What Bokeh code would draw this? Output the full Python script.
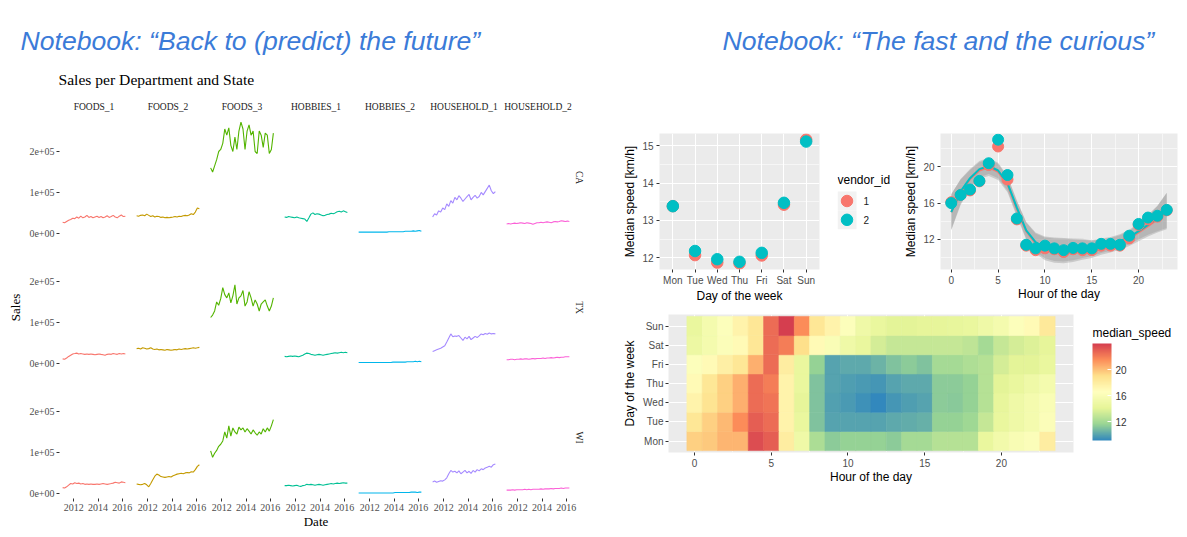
import numpy as np
import pandas as pd
from bokeh.plotting import figure
from bokeh.models import (Range1d, FactorRange, FixedTicker, Label, Title,
                          ColumnDataSource, LinearColorMapper, ColorBar)
from bokeh.core.properties import value
from bokeh.layouts import row, column
from bokeh.transform import transform
from bokeh.embed import file_html
from bokeh.resources import INLINE

SERIF = "Liberation Serif"
SANS = "Liberation Sans"

# ---------------- left chart data (sales, thousands) ----------------
dates = ["2011-02-01", "2011-04-01", "2011-06-01", "2011-08-01", "2011-10-01", "2011-12-01",
         "2012-02-01", "2012-04-01", "2012-06-01", "2012-08-01", "2012-10-01", "2012-12-01",
         "2013-02-01", "2013-04-01", "2013-06-01", "2013-08-01", "2013-10-01", "2013-12-01",
         "2014-02-01", "2014-04-01", "2014-06-01", "2014-08-01", "2014-10-01", "2014-12-01",
         "2015-02-01", "2015-04-01", "2015-06-01", "2015-08-01", "2015-10-01", "2015-12-01",
         "2016-02-01", "2016-04-01"]
departments = ["FOODS_1", "FOODS_2", "FOODS_3", "HOBBIES_1", "HOBBIES_2", "HOUSEHOLD_1", "HOUSEHOLD_2"]
states = ["CA", "TX", "WI"]
dep_colors = ["#F8766D", "#C49A00", "#53B400", "#00C094", "#00B6EB", "#A58AFF", "#FB61D7"]
year_ticks = [2012, 2014, 2016]
sales_ticks = [0, 100000, 200000]
sales_tick_labels = ["0e+00", "1e+05", "2e+05"]

CA_FOODS_1 = [27, 26, 29, 32, 34, 37, 36, 40, 37, 42, 38, 40, 44, 39, 41, 38, 40, 42, 39, 41, 38, 40, 43, 39, 41, 44, 40, 38, 42, 45, 41, 42]
CA_FOODS_2 = [43, 42, 44, 45, 43, 47, 44, 41, 43, 40, 42, 41, 39, 40, 38, 39, 38, 39, 40, 41, 40, 42, 41, 43, 44, 43, 45, 48, 46, 52, 62, 60]
CA_FOODS_3 = [160, 150, 165, 180, 200, 205, 220, 255, 240, 258, 215, 200, 235, 205, 250, 272, 255, 205, 250, 265, 240, 250, 200, 195, 250, 240, 210, 245, 240, 195, 205, 245]
CA_HOBBIES_1 = [40, 39, 41, 40, 39, 38, 40, 38, 37, 36, 35, 29, 38, 47, 50, 46, 48, 47, 45, 43, 44, 46, 47, 49, 48, 50, 53, 54, 52, 55, 53, 51]
CA_HOBBIES_2 = [3, 3, 3, 3, 3, 3, 3, 3, 3, 3, 3, 3, 3, 3, 3, 4, 4, 4, 4, 4, 4, 4, 4, 5, 5, 5, 5, 6, 5, 6, 7, 5]
CA_HOUSEHOLD_1 = [40, 48, 45, 55, 52, 62, 58, 72, 66, 80, 74, 88, 82, 92, 86, 78, 84, 90, 95, 82, 88, 93, 86, 90, 100, 94, 102, 110, 118, 104, 97, 102]
CA_HOUSEHOLD_2 = [23, 24, 23, 24, 25, 24, 25, 26, 25, 24, 26, 25, 24, 22, 24, 26, 26, 27, 26, 27, 28, 27, 26, 28, 29, 28, 29, 31, 30, 29, 30, 29]

TX_FOODS_1 = [11, 10, 13, 17, 20, 23, 24, 25, 23, 24, 23, 22, 23, 22, 23, 22, 21, 22, 23, 22, 21, 20, 22, 23, 22, 24, 23, 22, 24, 23, 24, 23]
TX_FOODS_2 = [36, 37, 35, 38, 37, 35, 36, 38, 35, 34, 35, 33, 34, 33, 32, 34, 33, 32, 33, 34, 33, 35, 34, 35, 36, 35, 36, 37, 38, 37, 38, 39]
TX_FOODS_3 = [112, 118, 128, 150, 142, 158, 185, 168, 160, 172, 148, 165, 192, 145, 160, 165, 178, 140, 150, 175, 160, 140, 155, 145, 128, 145, 150, 155, 140, 128, 140, 160]
TX_HOBBIES_1 = [17, 16, 17, 18, 17, 18, 17, 16, 18, 20, 23, 25, 24, 22, 21, 20, 21, 22, 21, 20, 21, 22, 23, 24, 25, 26, 25, 26, 27, 26, 27, 26]
TX_HOBBIES_2 = [2, 2, 2, 2, 2, 2, 2, 2, 2, 2, 2, 2, 2, 2, 2, 2, 2, 3, 3, 3, 3, 3, 3, 3, 4, 4, 4, 4, 5, 4, 5, 4]
TX_HOUSEHOLD_1 = [29, 31, 33, 35, 37, 40, 43, 52, 62, 72, 65, 67, 66, 68, 62, 56, 64, 60, 66, 58, 62, 66, 63, 67, 72, 70, 73, 71, 74, 72, 73, 72]
TX_HOUSEHOLD_2 = [9, 9, 10, 10, 9, 10, 10, 11, 10, 11, 11, 10, 11, 12, 11, 12, 12, 12, 13, 12, 13, 13, 14, 13, 14, 15, 14, 15, 15, 16, 16, 16]

WI_FOODS_1 = [14, 13, 16, 20, 24, 23, 26, 24, 25, 23, 24, 22, 23, 22, 23, 22, 22, 23, 22, 23, 24, 23, 22, 23, 24, 25, 27, 26, 25, 28, 27, 26]
WI_FOODS_2 = [23, 22, 21, 22, 24, 21, 16, 24, 33, 42, 47, 45, 41, 40, 39, 40, 41, 40, 43, 45, 47, 48, 49, 48, 50, 51, 50, 53, 52, 58, 66, 70]
WI_FOODS_3 = [104, 88, 98, 105, 115, 120, 128, 150, 135, 165, 140, 160, 150, 145, 162, 155, 160, 150, 158, 152, 145, 155, 148, 142, 150, 145, 158, 150, 160, 152, 165, 180]
WI_HOBBIES_1 = [19, 19, 20, 19, 18, 19, 20, 18, 17, 19, 20, 22, 21, 22, 21, 20, 21, 22, 21, 20, 21, 22, 23, 24, 23, 24, 25, 24, 25, 26, 25, 25]
WI_HOBBIES_2 = [1, 1, 1, 1, 1, 1, 1, 1, 1, 1, 1, 1, 1, 1, 1, 1, 1, 1, 2, 2, 2, 2, 2, 2, 2, 2, 3, 3, 3, 2, 3, 3]
WI_HOUSEHOLD_1 = [28, 30, 27, 29, 31, 30, 33, 38, 48, 56, 52, 54, 50, 55, 48, 52, 56, 50, 54, 49, 56, 52, 58, 55, 60, 58, 62, 64, 66, 64, 70, 72]
WI_HOUSEHOLD_2 = [8, 8, 8, 9, 8, 9, 9, 9, 9, 10, 9, 10, 9, 10, 10, 10, 10, 11, 10, 11, 11, 11, 12, 11, 12, 12, 12, 13, 12, 13, 13, 13]

# ---------------- right chart data ----------------
days = ["Mon", "Tue", "Wed", "Thu", "Fri", "Sat", "Sun"]
vendor_ids = ["1", "2"]
vendor_colors = ["#F8766D", "#00BFC4"]
dow_speed_v1 = [13.38, 12.07, 11.87, 11.85, 12.06, 13.42, 15.16]
dow_speed_v2 = [13.38, 12.18, 11.96, 11.89, 12.13, 13.47, 15.11]

hours = [0, 1, 2, 3, 4, 5, 6, 7, 8, 9, 10, 11, 12, 13, 14, 15, 16, 17, 18, 19, 20, 21, 22, 23]
hour_speed_v1 = [16.1, 16.9, 17.4, 18.4, 20.2, 22.25, 18.6, 14.2, 11.3, 10.8, 11.0, 10.9, 10.6, 10.9, 10.8, 10.8, 11.3, 11.3, 11.3, 12.1, 13.6, 14.2, 14.5, 15.2]
hour_speed_v2 = [16.0, 16.9, 17.5, 18.45, 20.4, 23.0, 19.1, 14.3, 11.4, 11.0, 11.3, 11.0, 10.8, 11.05, 11.0, 11.0, 11.5, 11.5, 11.4, 12.4, 13.7, 14.4, 14.6, 15.25]
smooth_fit_v1 = [15.0, 17.2, 18.65, 19.6, 19.95, 19.45, 18.05, 15.35, 12.9, 11.55, 10.95, 10.75, 10.7, 10.75, 10.85, 10.9, 11.15, 11.35, 11.65, 12.1, 12.75, 13.45, 14.2, 15.1]
smooth_fit_v2 = [15.0, 17.3, 18.75, 19.75, 20.1, 19.6, 18.2, 15.5, 13.0, 11.7, 11.1, 10.9, 10.85, 10.9, 11.0, 11.05, 11.3, 11.5, 11.8, 12.25, 12.9, 13.6, 14.3, 15.2]
smooth_se_v1 = [2.0, 1.4, 1.0, 0.9, 0.95, 0.9, 0.85, 0.85, 0.95, 1.1, 1.25, 1.35, 1.35, 1.25, 1.1, 0.95, 0.85, 0.8, 0.8, 0.85, 0.95, 1.15, 1.45, 2.0]
smooth_se_v2 = [1.95, 1.35, 1.0, 0.9, 0.9, 0.85, 0.8, 0.8, 0.9, 1.05, 1.2, 1.3, 1.3, 1.2, 1.05, 0.9, 0.8, 0.75, 0.75, 0.8, 0.9, 1.1, 1.4, 1.95]

hm_Mon = [19.5, 19.7, 20.3, 20.3, 23.5, 23.0, 18.0, 15.0, 12.2, 11.3, 11.5, 11.5, 11.5, 11.3, 12.0, 12.0, 12.5, 12.5, 12.5, 14.5, 15.3, 15.8, 16.2, 18.0]
hm_Tue = [18.5, 19.5, 20.2, 21.5, 23.0, 22.5, 17.5, 14.5, 11.0, 10.0, 10.0, 10.0, 10.0, 10.2, 10.3, 10.4, 11.5, 11.5, 11.8, 13.0, 14.5, 15.0, 15.5, 16.2]
hm_Wed = [17.5, 18.7, 19.5, 20.5, 22.5, 22.3, 17.5, 14.2, 11.0, 9.9, 9.7, 9.4, 9.1, 9.6, 9.8, 10.0, 11.3, 11.2, 11.5, 12.5, 14.3, 15.0, 15.5, 16.0]
hm_Thu = [17.0, 18.5, 19.5, 20.5, 22.5, 22.0, 17.5, 14.5, 11.0, 10.0, 9.8, 9.7, 9.6, 10.0, 10.2, 10.2, 11.3, 11.3, 11.5, 12.5, 14.0, 14.5, 15.0, 15.5]
hm_Fri = [16.3, 17.0, 17.8, 18.5, 20.5, 22.5, 18.0, 14.5, 11.5, 10.0, 10.2, 10.2, 10.5, 11.0, 11.3, 11.0, 12.0, 12.0, 12.3, 12.5, 13.5, 14.0, 14.0, 14.5]
hm_Sat = [14.8, 15.5, 16.2, 17.0, 18.5, 22.5, 22.0, 19.0, 17.0, 16.0, 15.0, 14.5, 13.5, 13.0, 13.0, 13.0, 13.0, 13.0, 12.8, 12.0, 13.0, 13.5, 13.8, 14.2]
hm_Sun = [14.5, 15.5, 16.3, 17.5, 18.5, 22.5, 24.0, 21.5, 18.5, 17.5, 16.3, 15.0, 14.5, 14.0, 14.0, 14.2, 14.2, 14.3, 14.5, 15.0, 15.5, 16.3, 17.0, 18.3]
spectral_rev = ["#3288BD", "#99D594", "#E6F598", "#FFFFBF", "#FEE08B", "#FC8D59", "#D53E4F"]
colorbar_ticks = [12, 16, 20]

# ---------------- helpers ----------------
def dec_year(s):
    d = pd.Timestamp(s)
    a = pd.Timestamp(year=d.year, month=1, day=1)
    b = pd.Timestamp(year=d.year + 1, month=1, day=1)
    return d.year + (d - a) / (b - a)


def expand(lo, hi, f=0.05):
    d = (hi - lo) * f
    return lo - d, hi + d


def style_axis(ax, font, label_color, size="10px", title_size="12px"):
    ax.axis_line_color = None
    ax.major_tick_line_color = "#333333"
    ax.major_tick_out = 3
    ax.major_tick_in = 0
    ax.minor_tick_line_color = None
    ax.major_label_text_font = font
    ax.major_label_text_font_size = size
    ax.major_label_text_color = label_color
    ax.major_label_standoff = 2
    ax.axis_label_text_font = font
    ax.axis_label_text_font_size = title_size
    ax.axis_label_text_font_style = "normal"
    ax.axis_label_text_color = "black"


def gg_panel(p):
    p.background_fill_color = "#EBEBEB"
    p.outline_line_color = None
    p.grid.grid_line_color = "white"
    p.grid.grid_line_width = 1.1
    p.grid.minor_grid_line_color = "white"
    p.grid.minor_grid_line_width = 0.55
    for ax in p.axis:
        style_axis(ax, SANS, "#4D4D4D")


def blank(p):
    p.outline_line_color = None
    p.grid.visible = False
    p.background_fill_color = "white"


sales = {
    "CA": [CA_FOODS_1, CA_FOODS_2, CA_FOODS_3, CA_HOBBIES_1, CA_HOBBIES_2, CA_HOUSEHOLD_1, CA_HOUSEHOLD_2],
    "TX": [TX_FOODS_1, TX_FOODS_2, TX_FOODS_3, TX_HOBBIES_1, TX_HOBBIES_2, TX_HOUSEHOLD_1, TX_HOUSEHOLD_2],
    "WI": [WI_FOODS_1, WI_FOODS_2, WI_FOODS_3, WI_HOBBIES_1, WI_HOBBIES_2, WI_HOUSEHOLD_1, WI_HOUSEHOLD_2],
}

x_years = [dec_year(s) for s in dates]
all_sales = [v * 1000 for st in states for arr in sales[st] for v in arr]
ylo, yhi = expand(min(all_sales), max(all_sales))
xlo, xhi = expand(min(x_years), max(x_years))
x_rng = Range1d(xlo, xhi)
y_rng = Range1d(ylo, yhi)

# ---------------- header ----------------
head = figure(width=1187, height=95, x_range=Range1d(0, 1187), y_range=Range1d(95, 0),
              x_axis_location=None, y_axis_location=None, title=None,
              toolbar_location=None, output_backend="svg",
              min_border_left=0, min_border_right=0, min_border_top=0, min_border_bottom=0)
blank(head)
BLUE = "#3B7BD8"
head.add_layout(Label(x=20, y=40, text="Notebook: \u201cBack to (predict) the future\u201d",
                      text_font=SANS, text_font_size="26.6px", text_font_style="italic",
                      text_color=BLUE, text_baseline="alphabetic"))
head.add_layout(Label(x=722, y=40, text="Notebook: \u201cThe fast and the curious\u201d",
                      text_font=SANS, text_font_size="26.6px", text_font_style="italic",
                      text_color=BLUE, text_baseline="alphabetic"))
head.add_layout(Label(x=58, y=79, text="Sales per Department and State",
                      text_font=SERIF, text_font_size="15.6px", text_color="black",
                      text_baseline="alphabetic"))

# ---------------- left facet grid ----------------
FW, FH = 69, 122
facet_rows = []
nS, nD = len(states), len(departments)
for i, st in enumerate(states):
    figs = []
    for j, dep in enumerate(departments):
        bl = 59 if j == 0 else 0
        br = 28 if j == nD - 1 else 5
        bt = 21 if i == 0 else 0
        bb = 39 if i == nS - 1 else 8
        p = figure(width=bl + FW + br, height=bt + FH + bb, x_range=x_rng, y_range=y_rng,
                   x_axis_location="below" if i == nS - 1 else None,
                   y_axis_location="left" if j == 0 else None,
                   title=None, toolbar_location=None, output_backend="svg",
                   min_border_left=bl, min_border_right=br, min_border_top=bt, min_border_bottom=bb)
        blank(p)
        p.line(x_years, [v * 1000 for v in sales[st][j]], line_color=dep_colors[j], line_width=1.1)
        if i == 0:
            p.add_layout(Title(text=dep, align="center", text_font=SERIF, text_font_size="9.5px",
                               text_font_style="normal", text_color="#1A1A1A", standoff=9), "above")
        if j == nD - 1:
            p.add_layout(Title(text=st, align="center", text_font=SERIF, text_font_size="9.5px",
                               text_font_style="normal", text_color="#1A1A1A", standoff=2), "right")
        if j == 0:
            ax = p.yaxis[0]
            style_axis(ax, SERIF, "#4D4D4D", "10px", "13px")
            ax.ticker = FixedTicker(ticks=sales_ticks)
            ax.major_label_overrides = dict(zip(sales_ticks, sales_tick_labels))
            ax.axis_label_standoff = 3
            if st == "TX":
                ax.axis_label = "Sales"
        if i == nS - 1:
            ax = p.xaxis[0]
            style_axis(ax, SERIF, "#4D4D4D", "10px", "13px")
            ax.ticker = FixedTicker(ticks=year_ticks)
            ax.axis_label_standoff = 0
            if j == 3:
                ax.axis_label = "Date"
        figs.append(p)
    facet_rows.append(row(*figs))
left_block = column(*facet_rows)

# ---------------- panel A: day of week ----------------
a_lo, a_hi = expand(min(dow_speed_v1 + dow_speed_v2), max(dow_speed_v1 + dow_speed_v2))
pA = figure(width=220, height=210,
            x_range=FactorRange(factors=days, range_padding=0.1, range_padding_units="absolute"),
            y_range=Range1d(a_lo, a_hi), title=None, toolbar_location=None, output_backend="svg",
            min_border_left=59, min_border_right=1, min_border_top=38, min_border_bottom=35)
gg_panel(pA)
pA.yaxis.ticker = FixedTicker(ticks=[12, 13, 14, 15], minor_ticks=[11.5, 12.5, 13.5, 14.5, 15.5])
pA.xaxis.axis_label = "Day of the week"
pA.yaxis.axis_label = "Median speed [km/h]"
pA.xaxis.axis_label_standoff = 0
pA.yaxis.axis_label_standoff = 2
pA.scatter(days, dow_speed_v1, size=11.5, color=vendor_colors[0])
pA.scatter(days, dow_speed_v2, size=11.5, color=vendor_colors[1])

# legend for vendor_id: key cells (1 unit = 19 px) stacked top to bottom
key_pos = [len(vendor_ids) - 1 - k for k in range(len(vendor_ids))]
KEY_PX = 19.0
FRAME_W, FRAME_H = 59.0, 137.4
key_top_off = 58.7   # px from frame top to top of first key
leg_hi = max(key_pos) + 0.5 + key_top_off / KEY_PX
leg_lo = leg_hi - FRAME_H / KEY_PX
pL = figure(width=80, height=210, x_range=Range1d(-0.5, -0.5 + FRAME_W / KEY_PX),
            y_range=Range1d(leg_lo, leg_hi),
            x_axis_location=None, y_axis_location=None, title=None,
            toolbar_location=None, output_backend="svg",
            min_border_left=17, min_border_right=4, min_border_top=38, min_border_bottom=35)
blank(pL)
pL.rect([0] * len(vendor_ids), key_pos, width=1, height=1, fill_color="#F2F2F2", line_color=None)
pL.scatter([0] * len(vendor_ids), key_pos, size=11.5, color=vendor_colors)
pL.text([0.5 + 7 / KEY_PX] * len(vendor_ids), key_pos, text=vendor_ids, text_font=value(SANS),
        text_font_size="10px", text_color="#1A1A1A", text_baseline="middle", text_align="left")
pL.add_layout(Label(x=-0.5, y=max(key_pos) + 0.5 + 0.63, text="vendor_id", text_font=SANS,
                    text_font_size="12px", text_color="black", text_baseline="middle"))

# ---------------- panel B: hour of day ----------------
lower_v1 = [f - s for f, s in zip(smooth_fit_v1, smooth_se_v1)]
upper_v1 = [f + s for f, s in zip(smooth_fit_v1, smooth_se_v1)]
lower_v2 = [f - s for f, s in zip(smooth_fit_v2, smooth_se_v2)]
upper_v2 = [f + s for f, s in zip(smooth_fit_v2, smooth_se_v2)]
b_lo, b_hi = expand(min(lower_v1 + lower_v2 + hour_speed_v1 + hour_speed_v2),
                    max(upper_v1 + upper_v2 + hour_speed_v1 + hour_speed_v2))
bx_lo, bx_hi = expand(min(hours), max(hours))
pB = figure(width=287, height=210, x_range=Range1d(bx_lo, bx_hi), y_range=Range1d(b_lo, b_hi),
            title=None, toolbar_location=None, output_backend="svg",
            min_border_left=40, min_border_right=10, min_border_top=38, min_border_bottom=35)
gg_panel(pB)
pB.xaxis.ticker = FixedTicker(ticks=[0, 5, 10, 15, 20], minor_ticks=[2.5, 7.5, 12.5, 17.5, 22.5])
pB.yaxis.ticker = FixedTicker(ticks=[12, 16, 20], minor_ticks=[10, 14, 18, 22])
pB.xaxis.axis_label = "Hour of the day"
pB.yaxis.axis_label = "Median speed [km/h]"
pB.xaxis.axis_label_standoff = 0
pB.yaxis.axis_label_standoff = 2
pB.varea(x=hours, y1=lower_v1, y2=upper_v1, fill_color="#999999", fill_alpha=0.4)
pB.varea(x=hours, y1=lower_v2, y2=upper_v2, fill_color="#999999", fill_alpha=0.4)
pB.line(hours, smooth_fit_v1, line_color=vendor_colors[0], line_width=2)
pB.line(hours, smooth_fit_v2, line_color=vendor_colors[1], line_width=2)
pB.scatter(hours, hour_speed_v1, size=11, color=vendor_colors[0])
pB.scatter(hours, hour_speed_v2, size=11, color=vendor_colors[1])

# ---------------- panel C: heatmap ----------------
hm = {"Mon": hm_Mon, "Tue": hm_Tue, "Wed": hm_Wed, "Thu": hm_Thu,
      "Fri": hm_Fri, "Sat": hm_Sat, "Sun": hm_Sun}
hx, hy, hv = [], [], []
for d in days:
    for h, v in zip(hours, hm[d]):
        hx.append(h)
        hy.append(d)
        hv.append(v)
src = ColumnDataSource(dict(hour=hx, day=hy, speed=hv))


def hex2rgb(c):
    return [int(c[k:k + 2], 16) for k in (1, 3, 5)]


anch = np.array([hex2rgb(c) for c in spectral_rev], dtype=float)
tt = np.linspace(0, 1, 256)
pos = np.linspace(0, 1, len(spectral_rev))
chan = [np.interp(tt, pos, anch[:, k]) for k in range(3)]
palette = ["#%02x%02x%02x" % (int(round(r)), int(round(g)), int(round(b))) for r, g, b in zip(*chan)]
mapper = LinearColorMapper(palette=palette, low=min(hv), high=max(hv))

cx_lo, cx_hi = expand(min(hours) - 0.5, max(hours) + 0.5)
pC = figure(width=478, height=232, x_range=Range1d(cx_lo, cx_hi),
            y_range=FactorRange(factors=days, range_padding=0.1, range_padding_units="absolute"),
            title=None, toolbar_location=None, output_backend="svg",
            min_border_left=68, min_border_right=5, min_border_top=9, min_border_bottom=85)
gg_panel(pC)
pC.xaxis.ticker = FixedTicker(ticks=[0, 5, 10, 15, 20], minor_ticks=[2.5, 7.5, 12.5, 17.5, 22.5])
pC.xaxis.axis_label = "Hour of the day"
pC.yaxis.axis_label = "Day of the week"
pC.xaxis.axis_label_standoff = 0
pC.yaxis.axis_label_standoff = 3
pC.rect(x="hour", y="day", width=1, height=1, source=src,
        fill_color=transform("speed", mapper), line_color=transform("speed", mapper), line_width=0.6)

# colour-bar legend in its own little plot to the right of the heatmap
pCB = figure(width=109, height=232, x_range=Range1d(0, 109), y_range=Range1d(0, 138),
             x_axis_location=None, y_axis_location=None, title=None,
             toolbar_location=None, output_backend="svg",
             min_border_left=0, min_border_right=0, min_border_top=9, min_border_bottom=85)
blank(pCB)
cb = ColorBar(color_mapper=mapper, ticker=FixedTicker(ticks=colorbar_ticks), width=19, height=97,
              major_label_text_font=SANS, major_label_text_font_size="10px",
              major_label_text_color="#333333", label_standoff=4,
              major_tick_line_color="white", major_tick_in=4, major_tick_out=0,
              bar_line_color=None, location=(14, 12), margin=0, padding=0,
              background_fill_color=None, border_line_color=None)
pCB.add_layout(cb, "center")
pCB.add_layout(Label(x=14, y=120, text="median_speed", text_font=SANS, text_font_size="12px",
                     text_color="black", text_baseline="middle"))

right_block = column(row(pA, pL, pB), row(pC, pCB))
layout = column(head, row(left_block, right_block))

open("out.html", "w").write(file_html(layout, INLINE))
